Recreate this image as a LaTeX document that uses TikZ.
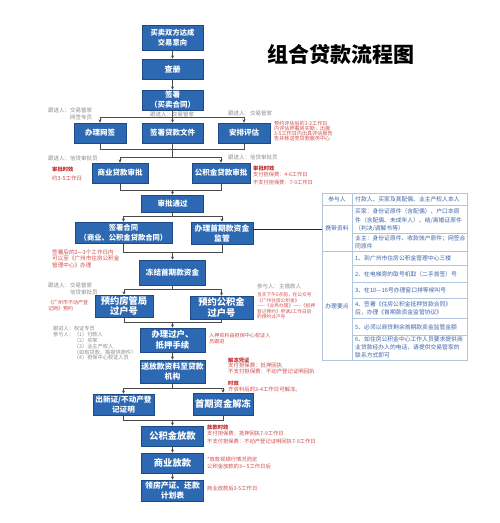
\documentclass[tikz,border=0pt]{standalone}
\usepackage{fontspec}
\setmainfont{Noto Sans CJK SC}
\usetikzlibrary{arrows.meta,calc}
\definecolor{boxblue}{HTML}{2D69B3}
\definecolor{boxedge}{HTML}{1D4A85}
\definecolor{anngray}{HTML}{8C8C8C}
\definecolor{annred}{HTML}{D24B4B}
\definecolor{annredb}{HTML}{C0292B}
\definecolor{tblue}{HTML}{3D64A8}
\definecolor{tline}{HTML}{B3C6E0}
\definecolor{conn}{HTML}{4A4A4A}
\newcommand\fsz[2]{\fontsize{#1}{#2}\selectfont}
\newcommand\bfs[2]{\fontsize{#1}{#2}\selectfont\bfseries}
\tikzset{
  fbox/.style={draw=boxedge, fill=boxblue, text=white, align=center, inner sep=0pt, line width=0.6pt},
  ln/.style={draw=conn, line width=0.6pt},
  arr/.style={ln, -{Stealth[length=3.2pt,width=3pt]}},
  anng/.style={text=anngray, align=left, inner sep=0pt},
  annr/.style={text=annred, align=left, inner sep=0pt},
  annb/.style={text=annredb, align=left, inner sep=0pt, font=\fsz{5.3}{6}\bfseries},
  tcell/.style={text=tblue, align=left, inner sep=0pt, font=\fsz{5.8}{8.3}},
  thead/.style={text=tblue, inner sep=0pt, font=\fsz{5.8}{7}},
  tl/.style={draw=tline, line width=0.6pt},
}
\begin{document}
\begin{tikzpicture}[x=1pt,y=-1pt]
\useasboundingbox (0,0) rectangle (500,523);
\fill[white] (0,0) rectangle (500,523);

% title
\node[inner sep=0pt, font=\fsz{21}{21}\bfseries] (title) at (341,54) {组合贷款流程图};

% main boxes
\node[fbox, minimum width=61pt, minimum height=25pt, font=\bfs{7.3}{10}] (n1) at (172.5,37.5) {买卖双方达成\\交易意向};
\node[fbox, minimum width=61pt, minimum height=20pt, font=\bfs{8}{10}] (n2) at (172.5,69) {查册};
\node[fbox, minimum width=61pt, minimum height=20pt, font=\bfs{7.5}{10}] (n3) at (172.5,100) {签署\\（买卖合同）};
\node[fbox, minimum width=52pt, minimum height=20pt, font=\bfs{7.5}{10}] (n4) at (100,133) {办理网签};
\node[fbox, minimum width=61pt, minimum height=20pt, font=\bfs{7.5}{10}] (n5) at (172.5,133) {签署贷款文件};
\node[fbox, minimum width=52pt, minimum height=20pt, font=\bfs{7.5}{10}] (n6) at (244,133) {安排评估};
\node[fbox, minimum width=56pt, minimum height=20pt, font=\bfs{7.5}{10}] (n7) at (120,173) {商业贷款审批};
\node[fbox, minimum width=58pt, minimum height=20pt, font=\bfs{7.5}{10}] (n8) at (221,173) {公积金贷款审批};
\node[fbox, minimum width=62pt, minimum height=17pt, font=\bfs{7.5}{10}] (n9) at (172.5,203.5) {审批通过};
\node[fbox, minimum width=97pt, minimum height=21pt, font=\bfs{7.3}{10.5}] (n10) at (123.5,232.5) {签署合同\\（商业、公积金贷款合同）};
\node[fbox, minimum width=62pt, minimum height=22pt, font=\bfs{7.8}{10}] (n11) at (222,233) {办理首期款资金\\监管};
\node[fbox, minimum width=66pt, minimum height=25pt, font=\bfs{7.6}{10}] (n12) at (172.5,272.5) {冻结首期款资金};
\node[fbox, minimum width=58pt, minimum height=22pt, font=\bfs{9.3}{10.5}] (n13) at (124,306) {预约房管局\\过户号};
\node[fbox, minimum width=63pt, minimum height=23pt, font=\bfs{9.3}{10.5}] (n14) at (221.5,307.5) {预约公积金\\过户号};
\node[fbox, minimum width=65pt, minimum height=24pt, font=\bfs{8.4}{11}] (n15) at (172.5,340) {办理过户、\\抵押手续};
\node[fbox, minimum width=65pt, minimum height=23pt, font=\bfs{7.8}{10.5}] (n16) at (172.5,371.5) {送放款资料至贷款\\机构};
\node[fbox, minimum width=61pt, minimum height=21pt, font=\bfs{7.6}{9.5}] (n17) at (123.5,404.5) {出新证/不动产登\\记证明};
\node[fbox, minimum width=60pt, minimum height=22pt, font=\bfs{9.3}{10}] (n18) at (223,404) {首期资金解冻};
\node[fbox, minimum width=62pt, minimum height=20pt, font=\bfs{9.3}{10}] (n19) at (172.5,436) {公积金放款};
\node[fbox, minimum width=62pt, minimum height=20pt, font=\bfs{9.3}{10}] (n20) at (172.5,463) {商业放款};
\node[fbox, minimum width=62pt, minimum height=21pt, font=\bfs{7.8}{10}] (n21) at (172.5,490.5) {领房产证、还款\\计划表};

% connectors
\draw[arr] (n1) -- (n2);
\draw[arr] (n2) -- (n3);
\coordinate (b1) at (172.5,117);
\draw[ln] (n3) -- (b1);
\draw[arr] (b1) -| (n4.north);
\draw[arr] (b1) -| (n6.north);
\draw[arr] (b1) -- (n5.north);
\coordinate (j1) at (172.5,149);
\coordinate (b2) at (172.5,157);
\draw[ln] (n4.south) |- (j1);
\draw[ln] (n6.south) |- (j1);
\draw[ln] (n5.south) -- (j1) -- (b2);
\draw[arr] (b2) -| (n7.north);
\draw[arr] (b2) -| (n8.north);
\coordinate (j2) at (172.5,190);
\draw[ln] (n7.south) |- (j2);
\draw[ln] (n8.south) |- (j2);
\draw[arr] (j2) -- (n9.north);
\coordinate (b3) at (172.5,216.5);
\draw[ln] (n9.south) -- (b3);
\draw[arr] (b3) -| (n10.north);
\draw[arr] (b3) -| (n11.north);
\coordinate (j3) at (172.5,252);
\draw[ln] (n10.south) |- (j3);
\draw[ln] (n11.south) |- (j3);
\draw[arr] (j3) -- (n12.north);
\coordinate (b4) at (172.5,289.5);
\draw[ln] (n12.south) -- (b4);
\draw[arr] (b4) -| (n13.north);
\draw[arr] (b4) -| (n14.north);
\coordinate (j4) at (172.5,322.5);
\draw[ln] (n13.south) |- (j4);
\draw[ln] (n14.south) |- (j4);
\draw[arr] (j4) -- (n15.north);
\draw[arr] (n15) -- (n16);
\coordinate (b5) at (172.5,388);
\draw[ln] (n16.south) -- (b5);
\draw[arr] (b5) -| (n17.north);
\draw[arr] (b5) -| (n18.north);
\coordinate (j5) at (172.5,420);
\draw[ln] (n17.south) |- (j5);
\draw[ln] (n18.south) |- (j5);
\draw[arr] (j5) -- (n19.north);
\draw[arr] (n19) -- (n20);
\draw[arr] (n20) -- (n21);

% table
\node[draw=tline, line width=0.6pt, minimum width=145pt, minimum height=167pt, inner sep=0pt] (tbl) at (394.5,276.5) {};
\draw[line width=0.9pt, black!85] ([yshift=4pt]n11.east) -- ([yshift=4pt]n11.east -| tbl.west);
\draw[tl] (322,205) -- (467,205);
\draw[tl] (322,251) -- (467,251);
\draw[tl] (352,193) -- (352,360);
\foreach \yy in {233,265,282,298,318,335} \draw[tl] (352,\yy) -- (467,\yy);
\node[thead] (h1) at (337,199) {参与人};
\node[thead] (h2) at (337,228) {携带资料};
\node[thead] (h3) at (337,306) {办理要点};
\node[tcell, anchor=west] (c1) at (355,199) {付款人、买家及其配偶、业主产权人本人};
\node[tcell, anchor=north west] (c2) at (355,208.8) {买家：身份证原件（含配偶）、户口本原\\件（含配偶、未成年人）、结/离婚证原件\\（判决/调解书等）};
\node[tcell, anchor=north west] (c3) at (355,235) {业主：身份证原件、收款账户原件；网签合\\同原件};
\node[tcell, anchor=west] (c4) at (355,258) {1、到广州市住房公积金管理中心三楼};
\node[tcell, anchor=west] (c5) at (355,274) {2、在电梯旁的取号机取（二手首签）号};
\node[tcell, anchor=west] (c6) at (355,290.5) {3、在10—16号办理窗口排等候叫号};
\node[tcell, anchor=north west] (c7) at (355,301.5) {4、签署《住房公积金抵押贷款合同》\\后，办理《首期款资金监管协议》};
\node[tcell, anchor=west] (c8) at (355,327) {5、必须以商贷剩余首期款资金监管金额};
\node[tcell, anchor=north west] (c9) at (355,336) {6、如住房公积金中心工作人员要求提供商\\业贷款经办人的电话，请提供交易管家的\\联系方式即可};

% annotations (gray)
\node[anng, anchor=north west, font=\fsz{5.5}{7.5}] (g1) at (48,107.3) {跟进人：交易管家\\\phantom{跟进人：}网签专员};
\node[anng, anchor=west, font=\fsz{5.5}{7}] (g2) at (150,114) {跟进人：交易管家};
\node[anng, anchor=west, font=\fsz{5.5}{7}] (g3) at (228,113) {跟进人：交易管家};
\node[anng, anchor=west, font=\fsz{5.5}{7}] (g4) at (48,158) {跟进人：信贷审批员};
\node[anng, anchor=west, font=\fsz{5.5}{7}] (g5) at (228,157) {跟进人：信贷审批员};
\node[anng, anchor=north west, font=\fsz{5.5}{7}] (g6) at (48,282.3) {跟进人：交易管家\\\phantom{跟进人：}信贷审批员};
\node[anng, anchor=west, font=\fsz{5.5}{7}] (g7) at (257,286) {参与人：主借款人};
\node[anng, anchor=north west, font=\fsz{5.2}{5.8}] (g8) at (53,326.4) {跟进人：权证专员\\参与人：（1）付款人\\\phantom{参与人：}（2）买家\\\phantom{参与人：}（3）业主产权人\\\phantom{参与人：}（如有贷款，需提供原件）\\\phantom{参与人：}（4）担保中心权证人员};

% annotations (red)
\node[annr, anchor=north west, font=\fsz{5.1}{5.1}] (r1) at (274,120.5) {预约评估后的1-2工作日\\内评估师看房实勘，出报\\3-5工作日内出具评估报告\\告并移送至贷款服务中心};
\node[annb, anchor=west] (rb1) at (52,169) {审批时效};
\node[annr, anchor=west, font=\fsz{5.5}{7}] (r2) at (52,178) {约3-5工作日};
\node[annb, anchor=west] (rb2) at (253,168) {审批时效};
\node[annr, anchor=north west, font=\fsz{5.2}{7.8}] (r3) at (253,172.4) {支付担保费：4-6工作日\\不支付担保费：7-9工作日};
\node[annr, anchor=north west, font=\fsz{5.6}{6.5}] (r4) at (52,249.2) {签署后的2—3个工作日内\\可以至《广州市住房公积金\\管理中心》办理};
\node[annr, anchor=north west, font=\fsz{5}{5.6}] (r5) at (48,300.5) {《广州市不动产登\\记网》预约};
\node[annr, anchor=north west, font=\fsz{4.7}{5.5}] (r6) at (257,292.6) {当天下午5点前，在公众号\\《广州住房公积金》\\——《业务办理》——《抵押\\登记预约》申请2工作日后\\的预约过户号};
\node[annr, anchor=north west, font=\fsz{5.1}{6}] (r7) at (209,333.4) {入押资料由担保中心权证人\\员跟进};
\node[annb, anchor=west] (rb3) at (228,360) {解冻凭证};
\node[annr, anchor=north west, font=\fsz{5.4}{6}] (r8) at (228,362.3) {支付担保费：抵押回执\\不支付担保费：不动产登记证明回执};
\node[annb, anchor=west] (rb4) at (228,383) {时效};
\node[annr, anchor=west, font=\fsz{5.4}{6}] (r9) at (228,389) {齐资料后的3-4工作日可解冻。};
\node[annb, anchor=west] (rb5) at (207,427) {放款时效};
\node[annr, anchor=north west, font=\fsz{5.3}{8}] (r10) at (207,431.3) {支付担保费：抵押回执7-9工作日\\不支付担保费：不动产登记证明回执7-9工作日};
\node[annr, anchor=north west, font=\fsz{5.3}{7}] (r11) at (207,457.3) {*放款视银行情况而定\\公积金放款的3—5工作日后};
\node[annr, anchor=west, font=\fsz{5.3}{7}] (r12) at (207,488) {商业放款后3-5工作日};
\end{tikzpicture}
\end{document}
